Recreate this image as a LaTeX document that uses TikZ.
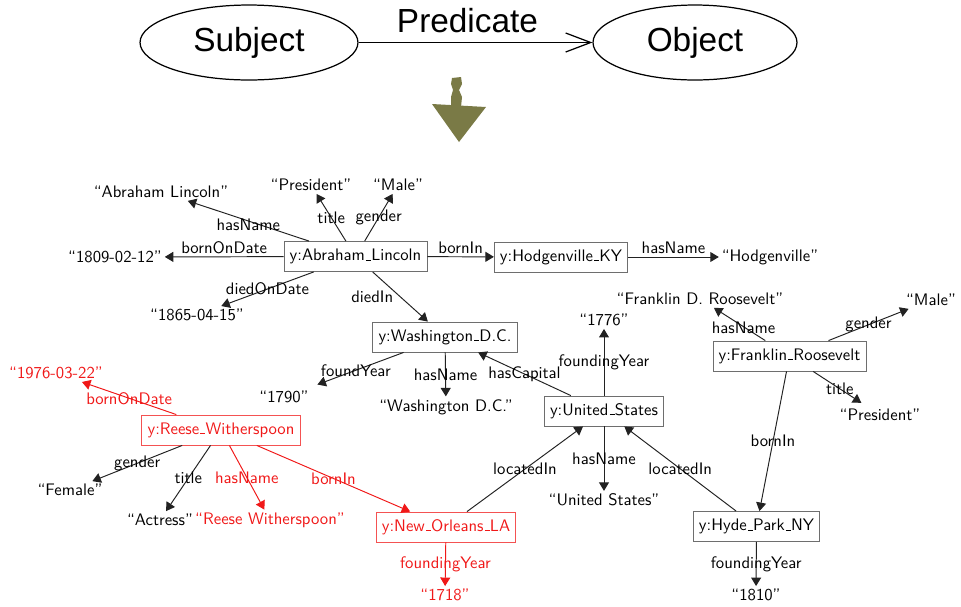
\documentclass[tikz,border=0pt]{standalone}
\usepackage{fontspec}
\newfontfamily\helv{Liberation Sans}
\usetikzlibrary{arrows.meta,shapes.geometric}
\definecolor{olivearrow}{HTML}{7A7A46}
\definecolor{edgegray}{HTML}{222222}
\definecolor{boxgray}{HTML}{6E6E6E}
\definecolor{rdfred}{HTML}{F01818}
% short baseline underscore, as in classic sans-serif identifiers
\newcommand{\uscore}{\leavevmode\kern.06em\vbox{\hrule width .3em height .45pt}\kern.02em}
\begin{document}
\begin{tikzpicture}[x=0.02cm,y=-0.02cm,
  every node/.style={font=\fontsize{9.5}{11}\selectfont\sffamily},
  bigtext/.style={font=\helv\fontsize{19}{22}\selectfont},
  triple/.style={draw, ellipse, line width=0.7pt, bigtext},
  res/.style={draw=boxgray, line width=0.5pt, minimum height=0.6cm, inner xsep=3.2pt},
  hlres/.style={res, draw=rdfred!75, text=rdfred},
  lit/.style={inner sep=1.5pt},
  hl/.style={text=rdfred},
  lbl/.style={inner sep=0pt},
  rel/.style={draw=edgegray, line width=0.55pt, -{Triangle[length=0.17cm,width=0.2cm]}},
  hlrel/.style={rel, draw=rdfred}]
\useasboundingbox (0,0) rectangle (961,606);

% generic triple pattern
\node[triple, minimum width=4.36cm, minimum height=1.5cm] (subj) at (249,42.5) {Subject};
\node[triple, minimum width=4.08cm, minimum height=1.5cm] (obj) at (695,42.5) {Object};
\draw[line width=0.7pt, -{Straight Barb[length=0.5cm,width=0.38cm]}] (subj) --
  node[bigtext, above=2pt, shift={(-8,0)}] {Predicate} (obj);

% olive "becomes" arrow
\fill[olivearrow] (452,78) -- (461,77) -- (462,84) -- (459,90) -- (462,97) -- (461,107)
  -- (451,107) -- (451,97) -- (453,90) -- (451,84) -- cycle;
\fill[olivearrow] (432,104) -- (486,107) -- (459,142) -- cycle;

% resources and literals
\node[res] (al) at (355.5,256.5) {y:Abraham\uscore Lincoln};
\node[lit] (lname) at (161,192) {“Abraham Lincoln”};
\node[lit] (pres1) at (311,185) {“President”};
\node[lit] (male1) at (398,185) {“Male”};
\node[lit] (born1) at (115,257) {“1809-02-12”};
\node[lit] (died1) at (197,315) {“1865-04-15”};
\node[res] (hky) at (561,257) {y:Hodgenville\uscore KY};
\node[lit] (hname) at (770,257) {“Hodgenville”};
\node[res] (wdc) at (445,337) {y:Washington\uscore D.C.};
\node[lit] (y1790) at (284,397) {“1790”};
\node[lit] (wname) at (446,407) {“Washington D.C.”};
\node[res] (us) at (604,411) {y:United\uscore States};
\node[lit] (y1776) at (604,320) {“1776”};
\node[lit] (usname) at (604,500) {“United States”};
\node[res] (fr) at (789.5,356) {y:Franklin\uscore Roosevelt};
\node[lit] (frname) at (700,299) {“Franklin D. Roosevelt”};
\node[lit] (male2) at (931,300) {“Male”};
\node[lit] (pres2) at (880,415) {“President”};
\node[res] (hp) at (756.5,526.5) {y:Hyde\uscore Park\uscore NY};
\node[lit] (y1810) at (756,595) {“1810”};
\node[hlres] (rw) at (221,430) {y:Reese\uscore Witherspoon};
\node[lit,hl] (rwborn) at (56,373) {“1976-03-22”};
\node[lit] (fem) at (70,490) {“Female”};
\node[lit] (act) at (160,520) {“Actress”};
\node[lit,hl] (rwname) at (270,520) {“Reese Witherspoon”};
\node[hlres] (no) at (446,527) {y:New\uscore Orleans\uscore LA};
\node[lit,hl] (y1718) at (445,595) {“1718”};

% Abraham Lincoln
\draw[rel] (al) -- node[lbl, shift={(0,4)}] {hasName} (lname);
\draw[rel] (al) -- node[lbl] {title} (pres1);
\draw[rel] (al) -- node[lbl] {gender} (male1);
\draw[rel] (al) -- node[lbl, above=1.5pt] {bornOnDate} (born1);
\draw[rel] (al) -- node[lbl] {diedOnDate} (died1);
\draw[rel] (al) -- node[lbl, shift={(-28,0)}] {diedIn} (wdc);
\draw[rel] (al) -- node[lbl, above=1.5pt] {bornIn} (hky);
\draw[rel] (hky) -- node[lbl, above=1.5pt] {hasName} (hname);

% Washington and the United States
\draw[rel, shorten >=0.2cm] (wdc) -- node[lbl] {foundYear} (y1790);
\draw[rel] (wdc) -- node[lbl] {hasName} (wname);
\draw[rel] (us) -- node[lbl] {hasCapital} (wdc);
\draw[rel] (us) -- node[lbl] {foundingYear} (y1776);
\draw[rel] (us) -- node[lbl] {hasName} (usname);
\draw[rel] (no) -- node[lbl] {locatedIn} (us);
\draw[rel] (hp) -- node[lbl] {locatedIn} (us);

% Franklin Roosevelt
\draw[rel] (fr) -- node[lbl, shift={(4,4)}] {hasName} (frname);
\draw[rel] (fr) -- node[lbl] {gender} (male2);
\draw[rel, shorten >=0.12cm] (fr) -- node[lbl] {title} (pres2);
\draw[rel] (fr) -- node[lbl] {bornIn} (hp);
\draw[rel] (hp) -- node[lbl] {foundingYear} (y1810);

% Reese Witherspoon (new facts)
\draw[hlrel] (rw) -- node[lbl,hl] {bornOnDate} (rwborn);
\draw[rel] (rw) -- node[lbl] {gender} (fem);
\draw[rel] (rw) -- node[lbl] {title} (act);
\draw[hlrel] (rw) -- node[lbl,hl] {hasName} (rwname);
\draw[hlrel] (rw) -- node[lbl,hl] {bornIn} (no);
\draw[hlrel] (no) -- node[lbl,hl] {foundingYear} (y1718);
\end{tikzpicture}
\end{document}
